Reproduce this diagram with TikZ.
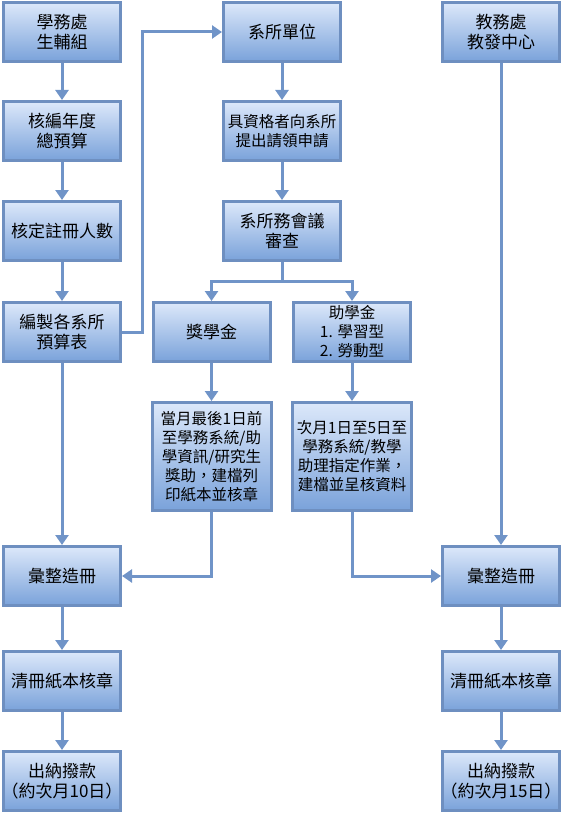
\documentclass[tikz,border=0pt]{standalone}
\usepackage{fontspec}
\setmainfont{Noto Sans CJK TC}
\usetikzlibrary{arrows.meta}
\definecolor{boxline}{HTML}{6E8FC0}
\definecolor{boxtop}{HTML}{DCE8FA}
\definecolor{boxbot}{HTML}{7AA2DA}
\definecolor{conn}{HTML}{7094C8}
\newcommand{\halfp}[1]{{\addfontfeatures{RawFeature=+halt}#1}}
\tikzset{
  flowbox/.style={draw=boxline, line width=3pt, top color=boxtop, bottom color=boxbot,
    minimum width=117pt, minimum height=59pt, inner sep=1pt, align=center,
    font=\fontsize{17pt}{19.5pt}\selectfont, text=black},
  tallbox/.style={flowbox, minimum width=119pt, minimum height=108pt},
  smalltext/.style={font=\fontsize{15.5pt}{19pt}\selectfont},
  conline/.style={draw=conn, line width=3pt},
  arr/.style={conline, -{Triangle[width=13pt,length=10pt]}}
}
\begin{document}
\begin{tikzpicture}[x=1pt,y=-1pt]
\useasboundingbox (0,0) rectangle (563,813);
% left column
\node[flowbox] (L1) at (62,32) {學務處\\生輔組};
\node[flowbox] (L2) at (62,131) {核編年度\\總預算};
\node[flowbox] (L3) at (62,231) {核定註冊人數};
\node[flowbox] (L4) at (62,332) {編製各系所\\預算表};
\node[flowbox] (L5) at (62,576) {彙整造冊};
\node[flowbox] (L6) at (62,681) {清冊紙本核章};
\node[flowbox] (L7) at (62,781) {出納撥款\\\halfp{（約次月10日）}};
% middle column
\node[flowbox] (M1) at (282,32) {系所單位};
\node[flowbox,smalltext] (M2) at (282,131) {具資格者向系所\\提出請領申請};
\node[flowbox] (M3) at (282,231) {系所務會議\\審查};
\node[flowbox] (S1) at (211.5,332) {獎學金};
\node[flowbox,smalltext] (S2) at (352,332) {助學金\\1. 學習型\\2. 勞動型};
\node[tallbox,smalltext] (T1) at (211.5,456.5) {當月最後1日前\\至學務系統/助\\學資訊/研究生\\獎助，建檔列\\印紙本並核章};
\node[tallbox,smalltext] (T2) at (352,456.5) {次月1日至5日至\\學務系統/教學\\助理指定作業，\\建檔並呈核資料};
% right column
\node[flowbox] (R1) at (501,32) {教務處\\教發中心};
\node[flowbox] (R5) at (501,576) {彙整造冊};
\node[flowbox] (R6) at (501,681) {清冊紙本核章};
\node[flowbox] (R7) at (501,781) {出納撥款\\\halfp{（約次月15日）}};
% helper coordinates
\coordinate (k1) at (142,332);
\coordinate (jM) at (282,281);
% connectors
\draw[arr] (L1) -- (L2);
\draw[arr] (L2) -- (L3);
\draw[arr] (L3) -- (L4);
\draw[arr] (L4) -- (L5);
\draw[arr] (L5) -- (L6);
\draw[arr] (L6) -- (L7);
\draw[arr] (L4.east) -- (k1) |- (M1.west);
\draw[arr] (M1) -- (M2);
\draw[arr] (M2) -- (M3);
\draw[conline] (M3.south) -- (jM);
\draw[arr] (jM) -| (S1.north);
\draw[arr] (jM) -| (S2.north);
\draw[arr] (S1) -- (T1);
\draw[arr] (S2) -- (T2);
\draw[arr] (T1.south) |- (L5.east);
\draw[arr] (T2.south) |- (R5.west);
\draw[arr] (R1) -- (R5);
\draw[arr] (R5) -- (R6);
\draw[arr] (R6) -- (R7);
\end{tikzpicture}
\end{document}
